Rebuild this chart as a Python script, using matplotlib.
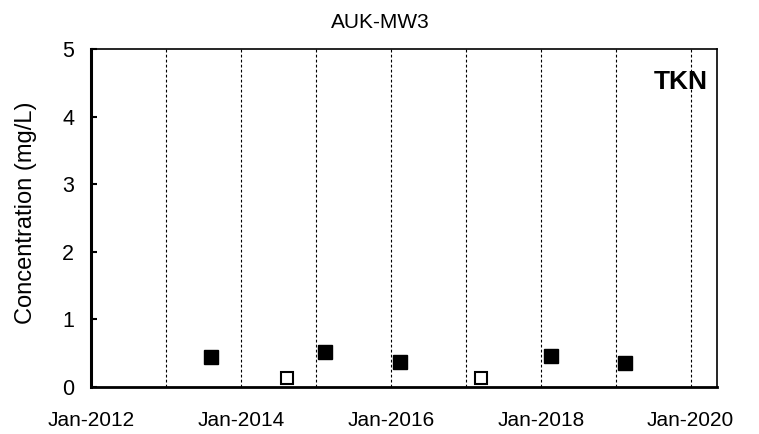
"""TKN concentration at AUK-MW3"""

import datetime as dt
import matplotlib
matplotlib.use("Agg")
import matplotlib.pyplot as plt
import matplotlib.dates as mdates

plt.rcParams['font.family'] = ['Liberation Sans', 'DejaVu Sans']

# Detected results
det_dates = [dt.date(2013, 8, 10), dt.date(2015, 2, 15), dt.date(2016, 2, 15),
             dt.date(2018, 2, 20), dt.date(2019, 2, 15)]
det_conc = [0.44, 0.52, 0.37, 0.46, 0.35]

# Non-detects (open symbols)
nd_dates = [dt.date(2014, 8, 15), dt.date(2017, 3, 15)]
nd_conc = [0.14, 0.14]

grid_years = list(range(2013, 2021))
label_years = [2012, 2014, 2016, 2018, 2020]

fig = plt.figure(figsize=(7.59, 4.34), dpi=100)
ax = fig.add_axes([91/759, 1 - 387/434, 626/759, 338/434])

ax.plot(det_dates, det_conc, 's', color='black', markersize=10, linestyle='none')
ax.plot(nd_dates, nd_conc, 's', markerfacecolor='white', markeredgecolor='black',
        markeredgewidth=1.5, markersize=8, linestyle='none')

for y in grid_years:
    ax.axvline(dt.date(y, 1, 1), color='black', linestyle=(0, (2.5, 2)), linewidth=0.8)

ax.set_xlim(dt.date(2012, 1, 1), dt.date(2020, 5, 8))
ax.set_ylim(0, 5)
ax.set_yticks([0, 1, 2, 3, 4, 5])

ax.set_xticks([dt.date(y, 1, 1) for y in label_years])
ax.xaxis.set_major_formatter(mdates.DateFormatter('%b-%Y'))
ax.tick_params(axis='x', length=0, labelsize=15, pad=17)
ax.tick_params(axis='y', direction='in', length=4, width=1.5, labelsize=15.5, pad=12)

ax.spines['left'].set_linewidth(2.2)
ax.spines['bottom'].set_linewidth(2)
ax.spines['top'].set_linewidth(1.2)
ax.spines['right'].set_linewidth(1.2)

ax.set_ylabel('Concentration (mg/L)', fontsize=17)
ax.yaxis.set_label_coords(-0.086, 0.515)
fig.text(0.5 + 1/759, 1 - 28/434, 'AUK-MW3', ha='center', va='baseline', fontsize=15)
ax.text(0.9856, 0.902, 'TKN', transform=ax.transAxes, ha='right', va='center',
        fontsize=19, fontweight='bold')

fig.savefig('out.png', dpi=100)
